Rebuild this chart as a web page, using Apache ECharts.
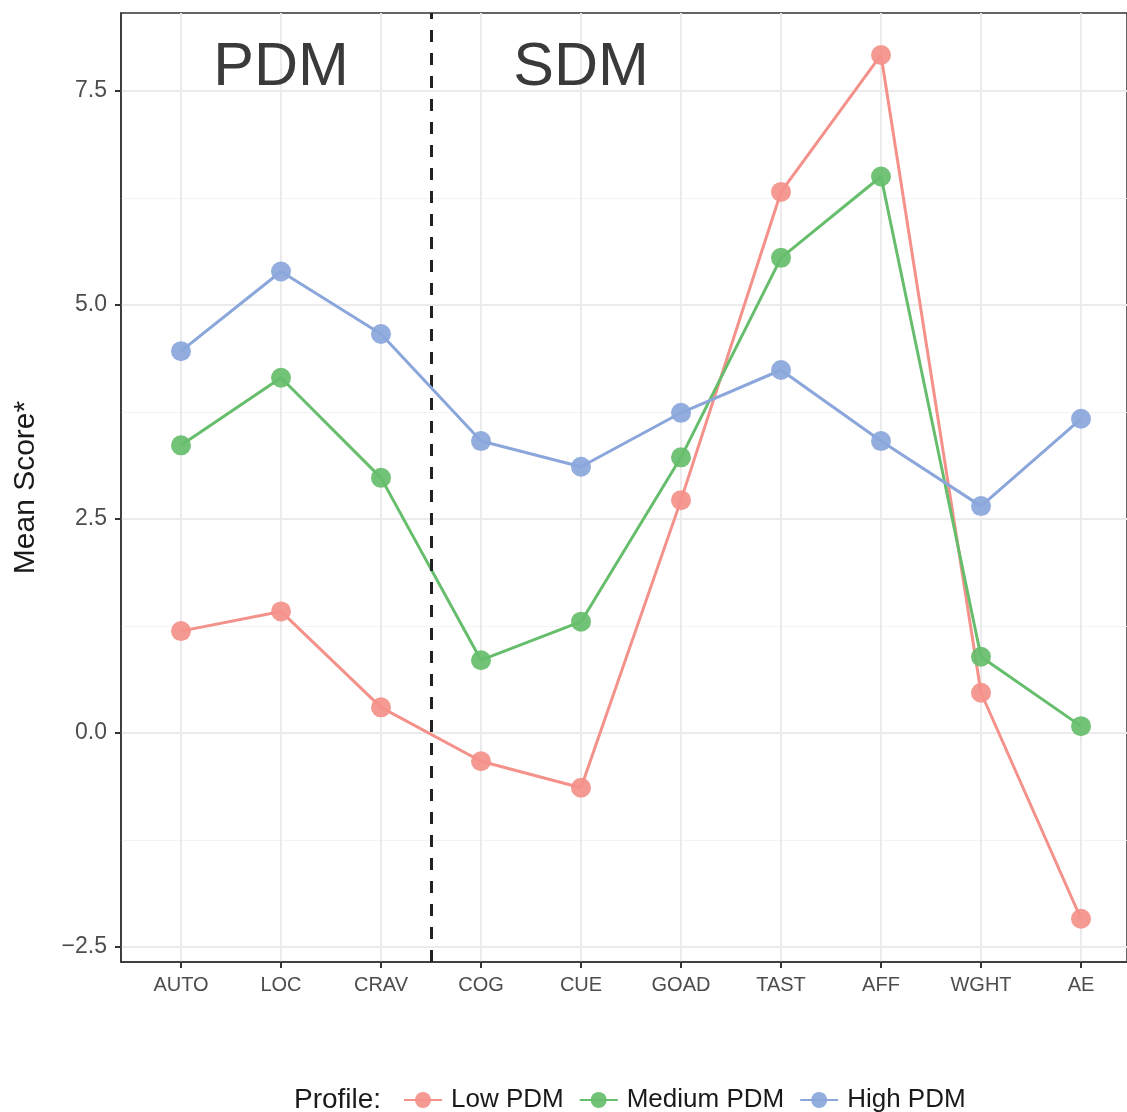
<!DOCTYPE html>
<html>
<head>
<meta charset="utf-8">
<script src="https://cdn.jsdelivr.net/npm/echarts@6/dist/echarts.min.js"></script>
<style>
  html, body { margin: 0; padding: 0; background: #fff; }
  #chart { width: 1127px; height: 1112px; }
</style>
</head>
<body>
<div id="chart"></div>
<script>
var categories = ['AUTO', 'LOC', 'CRAV', 'COG', 'CUE', 'GOAD', 'TAST', 'AFF', 'WGHT', 'AE'];
var lowPDM    = [1.19, 1.42, 0.30, -0.33, -0.64, 2.72, 6.32, 7.92, 0.47, -2.17];
var mediumPDM = [3.36, 4.15, 2.98, 0.85, 1.30, 3.22, 5.55, 6.50, 0.89, 0.08];
var highPDM   = [4.46, 5.39, 4.66, 3.41, 3.11, 3.74, 4.24, 3.41, 2.65, 3.67];
var seriesNames = ['Low PDM', 'Medium PDM', 'High PDM'];
var seriesColors = ['#F4918A', '#66BE6C', '#8AA6DB'];
var yMajor = [-2.5, 0, 2.5, 5, 7.5];
var yMinor = [-1.25, 1.25, 3.75, 6.25];
var dividerAt = 2.5;
var regionLabels = [{ name: 'PDM', x: 1, y: 7.77 }, { name: 'SDM', x: 4, y: 7.77 }];

var chart = echarts.init(document.getElementById('chart'));
var font = 'Liberation Sans, Arial, sans-serif';
var catIdx = categories.map(function (c, i) { return i; });

function toPairs(vals) {
    return vals.map(function (v, i) { return [i, v]; });
}

var series = [lowPDM, mediumPDM, highPDM].map(function (vals, k) {
    return {
        name: seriesNames[k],
        type: 'line',
        data: toPairs(vals),
        symbol: 'circle',
        symbolSize: 20,
        lineStyle: { color: seriesColors[k], width: 3 },
        itemStyle: { color: seriesColors[k], opacity: 0.92 },
        emphasis: { disabled: true },
        z: 3 + k,
        animation: false
    };
});

// divider + region labels
series.push({
    type: 'line',
    data: [],
    silent: true,
    animation: false,
    markLine: {
        silent: true,
        symbol: 'none',
        label: { show: false },
        lineStyle: { color: '#222', type: [12, 11], width: 3 },
        data: [{ xAxis: dividerAt }],
        animation: false
    },
    markPoint: {
        symbol: 'circle',
        symbolSize: 0,
        label: {
            show: true,
            formatter: '{b}',
            fontFamily: font,
            fontSize: 61,
            color: '#3a3a3a',
            position: 'inside'
        },
        data: regionLabels.map(function (r) { return { name: r.name, coord: [r.x, r.y] }; }),
        animation: false
    }
});

var options = {
    animation: false,
    backgroundColor: '#fff',
    textStyle: { fontFamily: font },
    title: {
        text: 'Profile:',
        left: 294,
        top: 1086,
        padding: 0,
        textStyle: { fontFamily: font, fontSize: 28, fontWeight: 'normal', color: '#1a1a1a' }
    },
    legend: {
        data: seriesNames,
        left: 398,
        top: 1082,
        itemWidth: 38,
        itemHeight: 20,
        itemGap: 15,
        textStyle: { fontFamily: font, fontSize: 26, color: '#1a1a1a', padding: [0, 0, 0, 4] }
    },
    grid: {
        left: 121,
        top: 13,
        right: 0,
        height: 949,
        show: true,
        borderColor: '#333',
        borderWidth: 1.5,
        containLabel: false
    },
    xAxis: {
        type: 'value',
        min: -0.6,
        max: 9.46,
        axisLine: { show: true, onZero: false, lineStyle: { color: '#333', width: 1.5 } },
        axisTick: { show: true, customValues: catIdx, length: 6, lineStyle: { color: '#333', width: 2 } },
        axisLabel: {
            customValues: catIdx,
            formatter: function (v) { return categories[Math.round(v)]; },
            fontFamily: font,
            fontSize: 20,
            color: '#4d4d4d',
            margin: 13
        },
        splitLine: { show: true, lineStyle: { color: '#ebebeb', width: 2 } }
    },
    yAxis: [{
        type: 'value',
        min: -2.675,
        max: 8.41,
        name: 'Mean Score*',
        nameLocation: 'middle',
        nameRotate: 90,
        nameGap: 80,
        nameTextStyle: { fontFamily: font, fontSize: 30, color: '#1a1a1a' },
        axisLine: { show: true, onZero: false, lineStyle: { color: '#333', width: 1.5 } },
        axisTick: { show: true, customValues: yMajor, length: 6, lineStyle: { color: '#333', width: 2 } },
        axisLabel: {
            customValues: yMajor,
            formatter: function (v) { return (v < 0 ? '\u2212' + Math.abs(v).toFixed(1) : v.toFixed(1)); },
            fontFamily: font,
            fontSize: 23,
            color: '#4d4d4d',
            margin: 14
        },
        splitLine: { show: true, lineStyle: { color: '#ebebeb', width: 2 } }
    }, {
        type: 'value',
        min: -2.675,
        max: 8.41,
        position: 'left',
        axisLine: { show: false },
        axisTick: { show: false, customValues: yMinor },
        axisLabel: { show: false, customValues: yMinor },
        splitLine: { show: true, lineStyle: { color: '#f3f3f3', width: 1 } }
    }],
    series: series
};

chart.setOption(options);
</script>
</body>
</html>
